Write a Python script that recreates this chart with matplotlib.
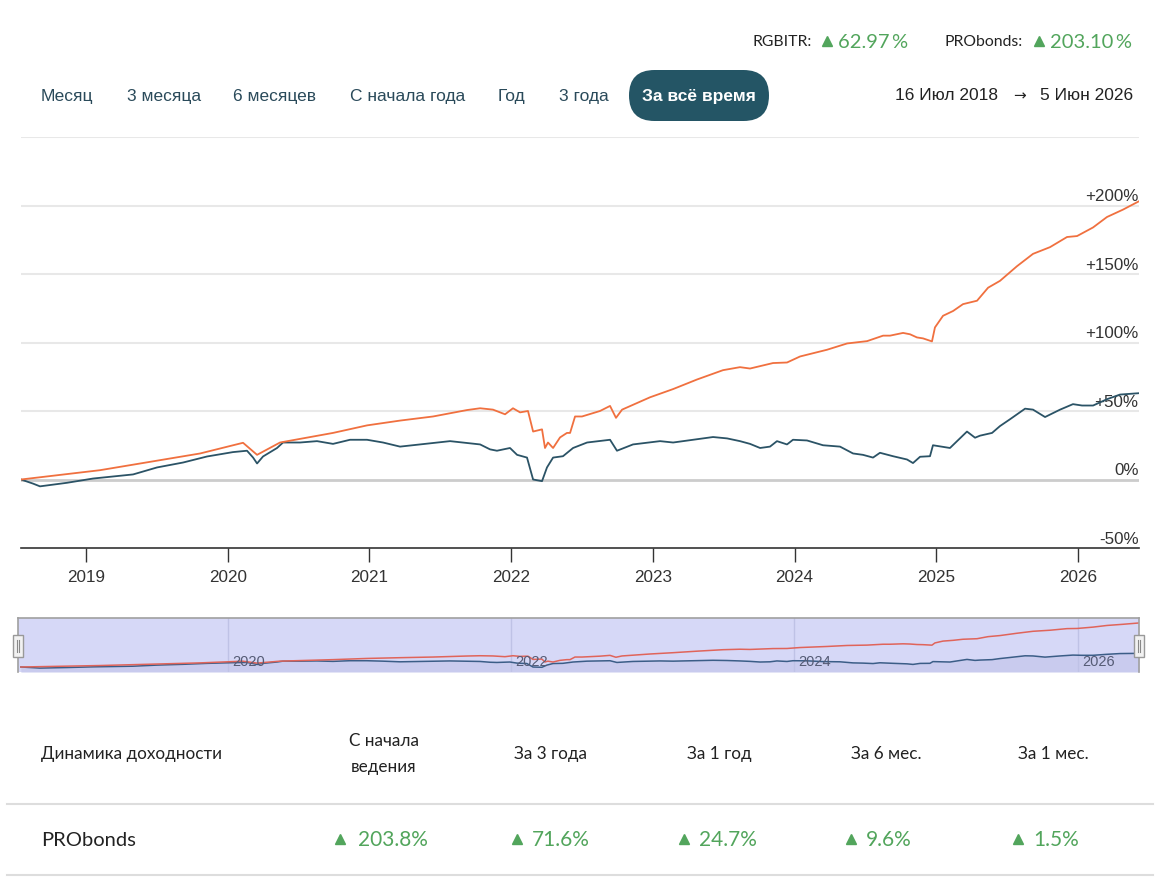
import matplotlib
matplotlib.use('Agg')
import matplotlib.pyplot as plt
from matplotlib.patches import FancyBboxPatch, Rectangle

# PRObonds, доходность в %, по датам (доля года)
pro_x = [2018.541, 2019.099, 2019.805, 2020.108, 2020.207, 2020.369, 2020.743, 2020.983,
         2021.216, 2021.449, 2021.689, 2021.781, 2021.872, 2021.957, 2022.013, 2022.063,
         2022.119, 2022.155, 2022.218, 2022.239, 2022.260, 2022.296, 2022.345, 2022.394,
         2022.416, 2022.451, 2022.500, 2022.627, 2022.698, 2022.740, 2022.783, 2022.980,
         2023.143, 2023.312, 2023.495, 2023.615, 2023.686, 2023.848, 2023.947, 2024.039,
         2024.229, 2024.371, 2024.512, 2024.625, 2024.674, 2024.766, 2024.815, 2024.864,
         2024.907, 2024.970, 2024.991, 2025.048, 2025.119, 2025.189, 2025.288, 2025.366,
         2025.450, 2025.570, 2025.683, 2025.803, 2025.923, 2025.994, 2026.107, 2026.205,
         2026.318, 2026.431]
pro_y = [0, 6.8, 19, 26.8, 18, 27, 34, 39.5,
         43, 46, 50.7, 52, 51, 47.6, 52, 49,
         50, 35, 36.6, 23, 27, 23, 30.7, 34,
         34, 46, 46, 50, 53.7, 45, 51, 60,
         66, 73, 79.8, 82, 81, 85, 85.4, 89.8,
         94.7, 99.3, 101, 105, 105, 107, 106, 103.7,
         103, 100.8, 111, 119.5, 123, 128, 130.5, 140,
         145, 155.7, 164.7, 169.6, 177, 177.7, 184, 191.6,
         197, 203.1]

# RGBITR
rgb_x = [2018.541, 2018.626, 2018.675, 2018.866, 2019.049, 2019.332, 2019.501, 2019.685,
         2019.854, 2020.037, 2020.136, 2020.179, 2020.207, 2020.249, 2020.348, 2020.390,
         2020.510, 2020.630, 2020.743, 2020.863, 2020.983, 2021.096, 2021.216, 2021.569,
         2021.781, 2021.851, 2021.900, 2021.992, 2022.042, 2022.112, 2022.155, 2022.218,
         2022.253, 2022.296, 2022.366, 2022.437, 2022.536, 2022.698, 2022.747, 2022.860,
         2023.051, 2023.143, 2023.284, 2023.425, 2023.524, 2023.615, 2023.686, 2023.757,
         2023.827, 2023.876, 2023.947, 2023.989, 2024.088, 2024.201, 2024.321, 2024.413,
         2024.483, 2024.554, 2024.603, 2024.695, 2024.794, 2024.836, 2024.886, 2024.956,
         2024.977, 2025.097, 2025.217, 2025.274, 2025.309, 2025.394, 2025.450, 2025.521,
         2025.627, 2025.683, 2025.768, 2025.874, 2025.965, 2026.029, 2026.107, 2026.205,
         2026.297, 2026.431]
rgb_y = [0, -3, -5, -2.4, 0.7, 3.7, 8.8, 12.4,
         16.8, 20, 21, 16, 11.7, 16.8, 23, 27,
         27, 28, 26, 29, 29, 27, 24, 28,
         25.6, 22, 21, 23, 18, 16, 0, -1.2,
         8.8, 16, 17, 23, 27, 29, 21, 25.6,
         28, 27, 29, 31, 30, 28, 26, 23,
         24, 28, 25.6, 29, 28.5, 25, 24, 19,
         18, 16, 19.5, 17, 14.6, 12, 16.6, 17,
         25, 23, 35, 30.5, 32, 34, 39, 44,
         51.7, 51, 45.6, 51, 55, 54, 54, 58.6,
         62, 63]

year_ticks = [2019, 2020, 2021, 2022, 2023, 2024, 2025, 2026]
nav_years = [2020, 2022, 2024, 2026]
y_levels = [-50, 0, 50, 100, 150, 200]
tabs = ['Месяц', '3 месяца', '6 месяцев', 'С начала года', 'Год', '3 года']
active_tab = 'За всё время'
date_from = '16 Июл 2018'
date_to = '5 Июн 2026'
total_rgbitr = 62.97
total_pro = 203.10
table_title = 'Динамика доходности'
table_cols = ['С начала\nведения', 'За 3 года', 'За 1 год', 'За 6 мес.', 'За 1 мес.']
table_row = 'PRObonds'
table_vals = [203.8, 71.6, 24.7, 9.6, 1.5]

ORANGE = '#f0703f'
BLUE = '#2b5366'
GREEN = '#52a55c'
ARIAL = ['Liberation Sans', 'DejaVu Sans']
LATO = ['Lato', 'DejaVu Sans']

W, H = 1156, 892
fig = plt.figure(figsize=(W / 100, H / 100), dpi=100)


def box(x0, y0, x1, y1):
    return [x0 / W, 1 - y1 / H, (x1 - x0) / W, (y1 - y0) / H]


# основной график
ax = fig.add_axes(box(21, 137, 1139, 548))
x0, x1 = pro_x[0], pro_x[-1]
ax.set_xlim(x0, x1)
ax.set_ylim(-50, 250)
for v in [50, 100, 150, 200, 250]:
    ax.axhline(v, color='#e8e8e8', lw=1.5, zorder=0)
ax.axhline(0, color='#cccccc', lw=2, zorder=0)
ax.plot(rgb_x, rgb_y, color=BLUE, lw=1.3, zorder=3)
ax.plot(pro_x, pro_y, color=ORANGE, lw=1.3, zorder=3)
for s in ['top', 'right', 'left']:
    ax.spines[s].set_visible(False)
ax.spines['bottom'].set_color('#333333')
ax.spines['bottom'].set_linewidth(1.2)
ax.set_yticks([])
ax.set_xticks(year_ticks)
ax.set_xticklabels([str(y) for y in year_ticks], family=ARIAL, fontsize=12.3, color='#333333')
ax.tick_params(axis='x', length=10, width=1, color='#333333', pad=6)
for v in y_levels:
    lab = ('+%d%%' % v) if v > 0 else ('%d%%' % v)
    ax.text(0.9995, v + 1.0, lab, transform=ax.get_yaxis_transform(), ha='right', va='bottom',
            family=ARIAL, fontsize=12.2, color='#333333', zorder=2)

# навигатор
nav = fig.add_axes(box(18, 618, 1139, 672))
nav.set_facecolor('#d6d8f7')
nav.set_xlim(x0 - 0.02, x1)
nav.set_ylim(-23, 226)
nav.fill_between(rgb_x, rgb_y, -23, color='#c9cbee', zorder=1, lw=0)
for yr in nav_years:
    nav.axvline(yr, color='#bfc2e6', lw=1, zorder=1.5)
    nav.text(yr + 0.03, 23, str(yr), ha='left', va='center', family=ARIAL,
             fontsize=10.5, color='#555b75', zorder=3)
nav.plot(rgb_x, rgb_y, color='#3b5d87', lw=1.1, zorder=2)
nav.plot(pro_x, pro_y, color='#e0645a', lw=1.1, zorder=2)
nav.set_xticks([])
nav.set_yticks([])
nav.spines['bottom'].set_visible(False)
for s in ['top', 'left', 'right']:
    nav.spines[s].set_color('#a0a0a0')
    nav.spines[s].set_linewidth(1.2)

# оверлей для текста и элементов интерфейса
ov = fig.add_axes([0, 0, 1, 1])
ov.set_xlim(0, W)
ov.set_ylim(H, 0)
ov.axis('off')
ov.patch.set_alpha(0)

# шапка
ov.text(752, 42, 'RGBITR:', family=LATO, fontsize=11.3, color='#222222', va='center')
ov.plot([827], [41], marker='^', ms=6.5, color=GREEN, lw=0)
ov.text(838, 42, ('%.2f\u2009%%' % total_rgbitr), family=LATO, fontsize=14.5, color=GREEN,
        va='center')
ov.text(944, 42, 'PRObonds:', family=LATO, fontsize=11.3, color='#222222', va='center')
ov.plot([1039], [41], marker='^', ms=6.5, color=GREEN, lw=0)
ov.text(1050, 42, ('%.2f\u2009%%' % total_pro), family=LATO, fontsize=14.5, color=GREEN,
        va='center')

# вкладки
tab_x = [41, 127, 233, 350, 498, 559]
for t, x in zip(tabs, tab_x):
    ov.text(x, 96, t, family=ARIAL, fontsize=12.5, color='#2a4a5a', va='center')
pill = FancyBboxPatch((629, 70), 140, 51, boxstyle='round,pad=0,rounding_size=25.5',
                      facecolor='#245565', edgecolor='none')
ov.add_patch(pill)
ov.text(699, 96, active_tab, family=ARIAL, fontsize=12.5, fontweight='bold', color='white',
        ha='center', va='center')
ov.text(1133, 96, date_to, family=ARIAL, fontsize=12.5, color='#222222', ha='right', va='center')
ov.text(1019, 96, '\u2192', family=['DejaVu Sans'], fontsize=11, color='#222222',
        ha='center', va='center')
ov.text(998, 96, date_from, family=ARIAL, fontsize=12.5, color='#222222', ha='right', va='center')

# ручки навигатора
for hx in [13, 1134]:
    ov.add_patch(Rectangle((hx, 635), 10, 22, facecolor='#f2f2f2', edgecolor='#999999', lw=1))
    ov.plot([hx + 4, hx + 4], [640, 652], color='#888888', lw=0.8)
    ov.plot([hx + 6, hx + 6], [640, 652], color='#888888', lw=0.8)

# таблица доходности
ov.text(41, 754, table_title, family=LATO, fontsize=12.3, color='#222222', va='center')
col_cx = [384, 550, 719, 886, 1053]
for c, cx in zip(table_cols, col_cx):
    ov.text(cx, 754, c, family=LATO, fontsize=12.3, color='#222222', ha='center', va='center',
            linespacing=1.75)
ov.plot([7, 1153], [804, 804], color='#dddddd', lw=1.5)
ov.plot([7, 1153], [875, 875], color='#dddddd', lw=1.5)
ov.text(41, 840, table_row, family=LATO, fontsize=14.5, color='#222222', va='center')
tri_x = [340, 517, 684, 851, 1018]
val_x = [358, 532, 699, 866, 1033]
for v, tx, vx in zip(table_vals, tri_x, val_x):
    ov.plot([tx], [839], marker='^', ms=6.5, color=GREEN, lw=0)
    ov.text(vx, 840, '%.1f%%' % v, family=LATO, fontsize=15, color=GREEN, va='center')

fig.savefig('out.png', dpi=100)
